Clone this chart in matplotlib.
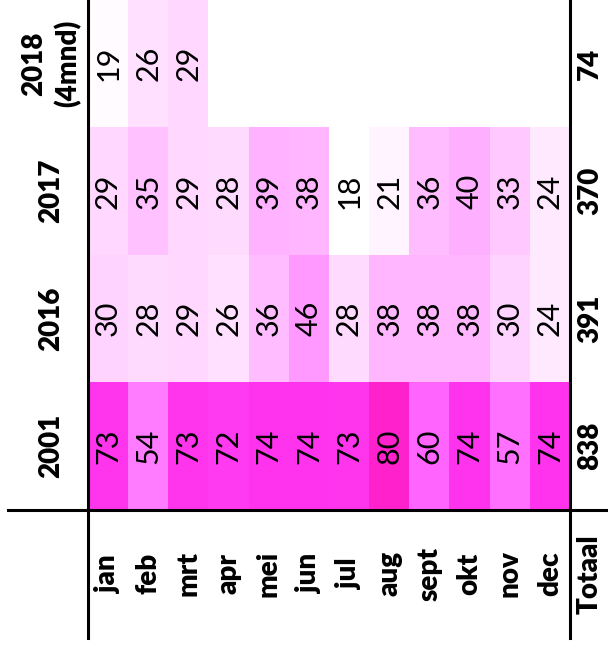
"""Monthly counts per year as a rotated heat table."""
# %% Imports
import numpy as np
from matplotlib import pyplot as plt
from matplotlib.colors import LinearSegmentedColormap, Normalize

# %% Data
months = ["jan", "feb", "mrt", "apr", "mei", "jun", "jul", "aug", "sept", "okt", "nov", "dec"]
years = ["2018\n(4mnd)", "2017", "2016", "2001"]
v2018 = [19, 26, 29]
v2017 = [29, 35, 29, 28, 39, 38, 18, 21, 36, 40, 33, 24]
v2016 = [30, 28, 29, 26, 36, 46, 28, 38, 38, 38, 30, 24]
v2001 = [73, 54, 73, 72, 74, 74, 73, 80, 60, 74, 57, 74]
totals = [74, 370, 391, 838]
total_label = "Totaal"

# pad 2018 with empty months
grid = np.full((4, 12), np.nan)
grid[0, : len(v2018)] = v2018
grid[1] = v2017
grid[2] = v2016
grid[3] = v2001

# %% Colours (white -> magenta)
vmin, vmax = 18, 80
nodes = [(18, "#FFFFFF"), (46, "#FF99FF"), (60, "#FF66FF"), (74, "#FF33EE"), (80, "#FF22CC")]
cmap = LinearSegmentedColormap.from_list(
    "wm", [((v - vmin) / (vmax - vmin), c) for v, c in nodes]
)
cmap.set_bad("white")
norm = Normalize(vmin, vmax)

# %% Figure
plt.rcParams["font.family"] = ["Lato", "DejaVu Sans"]
W, H = 608, 650
fig = plt.figure(figsize=(W / 100, H / 100), dpi=100)
ax = fig.add_axes([88 / W, (H - 510) / H, (570 - 88) / W, 510 / H])
ax.imshow(np.ma.masked_invalid(grid), cmap=cmap, norm=norm, aspect="auto",
          interpolation="nearest")
ax.set_xlim(-0.5, 11.5)
ax.set_ylim(3.5, -0.5)
ax.axis("off")

bold = dict(rotation=90, ha="center", va="center", fontsize=20,
            fontweight="heavy", clip_on=False)
for r in range(grid.shape[0]):
    for c in range(grid.shape[1]):
        if not np.isnan(grid[r, c]):
            ax.text(c, r, f"{int(grid[r, c])}", rotation=90, ha="center",
                    va="center", fontsize=22)
    ax.text(-1.42, r, years[r], linespacing=1.3, **bold)
    ax.text(12.0, r, f"{totals[r]}", **bold)

for c, m in enumerate(months):
    ax.text(c, 4.0, m, **bold)
ax.text(12.0, 4.0, total_label, **bold)

# table rules
lw = 2.2
ax.plot([-0.5, -0.5], [-0.5, 4.5], color="black", lw=lw, clip_on=False)
ax.plot([11.5, 11.5], [-0.5, 4.5], color="black", lw=lw, clip_on=False)
ax.plot([-2.5, 12.6], [3.5, 3.5], color="black", lw=lw, clip_on=False)

fig.savefig("out.png", dpi=100)
